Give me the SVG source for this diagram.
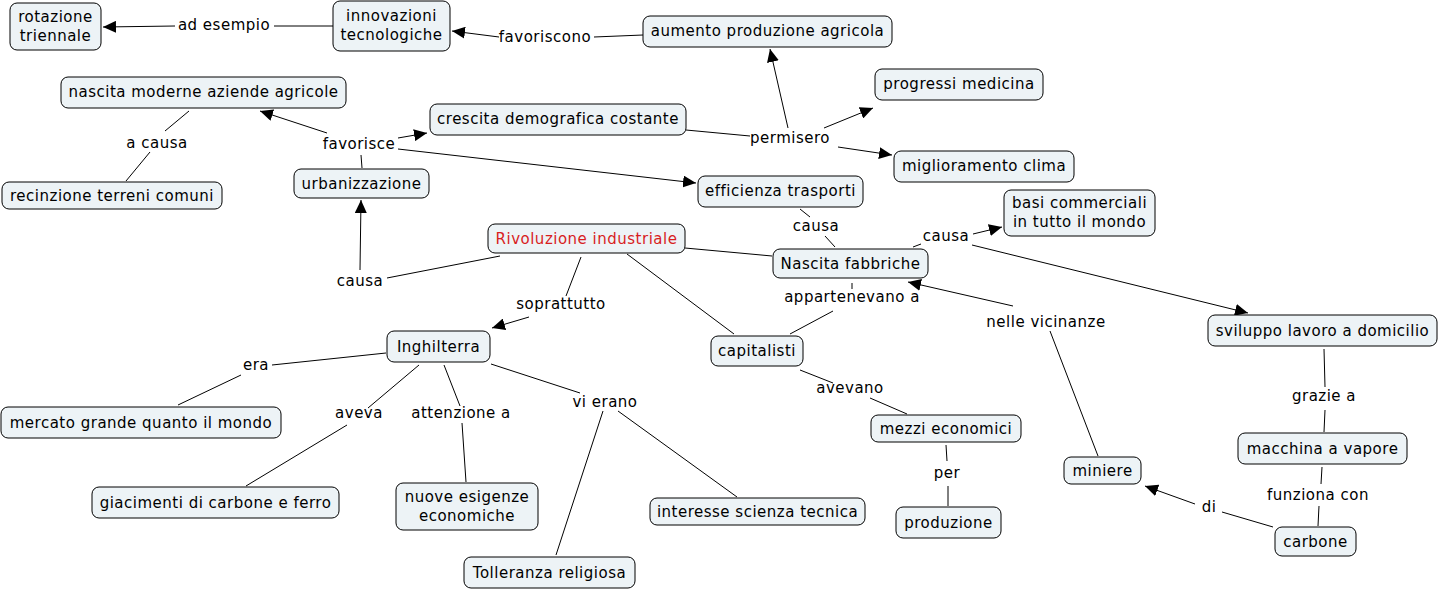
<svg xmlns="http://www.w3.org/2000/svg" width="1440" height="591" viewBox="0 0 1440 591">
<defs>
<style>
.n rect{fill:#edf3f6;stroke:#000;stroke-width:1}
text{font-family:"DejaVu Sans",Verdana,sans-serif;font-size:15px;letter-spacing:0.5px;fill:#000;text-anchor:middle}
.red{fill:#d81e1e}
#links line{stroke:#000;stroke-width:1}
.a{marker-end:url(#ar)}
</style>
<marker id="ar" markerUnits="userSpaceOnUse" markerWidth="14" markerHeight="12" refX="13" refY="6" orient="auto"><path d="M0,0 L13,6 L0,12 z" fill="#000"/></marker>
</defs>
<rect width="1440" height="591" fill="#fff"/>
<g id="links">
<line x1="333" y1="26" x2="274" y2="26"/><line class="a" x1="175" y1="26" x2="103" y2="27"/>
<line x1="643" y1="35" x2="594" y2="37"/><line class="a" x1="499" y1="37" x2="452" y2="31"/>
<line x1="686" y1="130" x2="750" y2="136"/>
<line class="a" x1="788" y1="128" x2="770" y2="49"/>
<line class="a" x1="824" y1="128" x2="873" y2="108"/>
<line class="a" x1="838" y1="147" x2="892" y2="155"/>
<line x1="362" y1="168" x2="361" y2="155"/>
<line class="a" x1="327" y1="133" x2="260" y2="111"/>
<line class="a" x1="398" y1="138" x2="427" y2="133"/>
<line class="a" x1="398" y1="149" x2="696" y2="183"/>
<line x1="126" y1="181" x2="150" y2="152"/><line x1="165" y1="131" x2="189" y2="111"/>
<line x1="500" y1="256" x2="387" y2="278"/><line class="a" x1="360" y1="270" x2="361" y2="200"/>
<line x1="685" y1="248" x2="772" y2="256"/>
<line x1="581" y1="257" x2="566" y2="296"/><line class="a" x1="529" y1="317" x2="492" y2="328"/>
<line x1="627" y1="254" x2="734" y2="334"/>
<line x1="800" y1="209" x2="810" y2="217"/><line x1="825" y1="236" x2="835" y2="247"/>
<line x1="913" y1="247" x2="921" y2="244"/>
<line class="a" x1="973" y1="234" x2="1002" y2="227"/>
<line class="a" x1="972" y1="245" x2="1248" y2="313"/>
<line x1="790" y1="334" x2="833" y2="311"/><line x1="852" y1="283" x2="852" y2="289"/>
<line x1="1098" y1="456" x2="1050" y2="331"/><line class="a" x1="1013" y1="306" x2="908" y2="282"/>
<line x1="800" y1="370" x2="833" y2="383"/><line x1="870" y1="398" x2="907" y2="414"/>
<line x1="946" y1="445" x2="947" y2="461"/><line x1="948" y1="486" x2="948" y2="506"/>
<line x1="386" y1="353" x2="272" y2="365"/><line x1="241" y1="375" x2="178" y2="405"/>
<line x1="419" y1="365" x2="368" y2="408"/><line x1="347" y1="425" x2="246" y2="486"/>
<line x1="444" y1="365" x2="460" y2="406"/><line x1="462" y1="423" x2="466" y2="482"/>
<line x1="491" y1="364" x2="580" y2="393"/><line x1="603" y1="411" x2="556" y2="555"/>
<line x1="618" y1="411" x2="737" y2="497"/>
<line x1="1324" y1="349" x2="1325" y2="387"/><line x1="1325" y1="410" x2="1324" y2="432"/>
<line x1="1318" y1="526" x2="1319" y2="506"/><line x1="1321" y1="484" x2="1322" y2="467"/>
<line x1="1273" y1="527" x2="1222" y2="512"/><line class="a" x1="1195" y1="504" x2="1145" y2="486"/>
</g>
<g id="labels">
<text x="224" y="30">ad esempio</text>
<text x="545" y="42">favoriscono</text>
<text x="790" y="143">permisero</text>
<text x="359" y="149">favorisce</text>
<text x="157" y="148">a causa</text>
<text x="360" y="286">causa</text>
<text x="561" y="309">soprattutto</text>
<text x="816" y="231">causa</text>
<text x="946" y="241">causa</text>
<text x="852" y="302">appartenevano a</text>
<text x="1046" y="327">nelle vicinanze</text>
<text x="850" y="393">avevano</text>
<text x="947" y="478">per</text>
<text x="256" y="370">era</text>
<text x="359" y="418">aveva</text>
<text x="461" y="418">attenzione a</text>
<text x="605" y="407">vi erano</text>
<text x="1324" y="401">grazie a</text>
<text x="1318" y="500">funziona con</text>
<text x="1209" y="512">di</text>
</g>
<g id="n1" class="n"><rect x="10" y="3" width="91" height="47" rx="7"/><text x="55.5" y="22">rotazione</text><text x="55.5" y="41">triennale</text></g>
<g id="n2" class="n"><rect x="333" y="1" width="117" height="50" rx="7"/><text x="391.5" y="21">innovazioni</text><text x="391.5" y="40">tecnologiche</text></g>
<g id="n3" class="n"><rect x="643" y="16" width="249" height="31" rx="7"/><text x="767.5" y="36">aumento produzione agricola</text></g>
<g id="n4" class="n"><rect x="61" y="77" width="285" height="31" rx="7"/><text x="203.5" y="97">nascita moderne aziende agricole</text></g>
<g id="n5" class="n"><rect x="430" y="104" width="256" height="31" rx="7"/><text x="558" y="124">crescita demografica costante</text></g>
<g id="n6" class="n"><rect x="875" y="69" width="168" height="31" rx="7"/><text x="959" y="89">progressi medicina</text></g>
<g id="n7" class="n"><rect x="894" y="151" width="180" height="31" rx="7"/><text x="984" y="171">miglioramento clima</text></g>
<g id="n8" class="n"><rect x="2" y="182" width="220" height="27" rx="7"/><text x="112" y="201">recinzione terreni comuni</text></g>
<g id="n9" class="n"><rect x="294" y="169" width="135" height="29" rx="7"/><text x="361.5" y="189">urbanizzazione</text></g>
<g id="n10" class="n"><rect x="698" y="176" width="165" height="31" rx="7"/><text x="780.5" y="196">efficienza trasporti</text></g>
<g id="n11" class="n"><rect x="1004" y="190" width="151" height="46" rx="7"/><text x="1079.5" y="208">basi commerciali</text><text x="1079.5" y="227">in tutto il mondo</text></g>
<g id="n12" class="n"><rect x="488" y="224" width="197" height="29" rx="7"/><text class="red" x="586.5" y="244">Rivoluzione industriale</text></g>
<g id="n13" class="n"><rect x="773" y="249" width="155" height="29" rx="7"/><text x="850.5" y="269">Nascita fabbriche</text></g>
<g id="n14" class="n"><rect x="711" y="336" width="92" height="30" rx="7"/><text x="757" y="356">capitalisti</text></g>
<g id="n15" class="n"><rect x="387" y="331" width="103" height="31" rx="7"/><text x="438.5" y="352">Inghilterra</text></g>
<g id="n16" class="n"><rect x="1" y="407" width="280" height="31" rx="7"/><text x="141" y="428">mercato grande quanto il mondo</text></g>
<g id="n17" class="n"><rect x="92" y="487" width="247" height="31" rx="7"/><text x="215.5" y="508">giacimenti di carbone e ferro</text></g>
<g id="n18" class="n"><rect x="396" y="483" width="142" height="47" rx="7"/><text x="467" y="502">nuove esigenze</text><text x="467" y="521">economiche</text></g>
<g id="n19" class="n"><rect x="650" y="498" width="215" height="27" rx="7"/><text x="757.5" y="517">interesse scienza tecnica</text></g>
<g id="n20" class="n"><rect x="464" y="557" width="171" height="31" rx="7"/><text x="549.5" y="578">Tolleranza religiosa</text></g>
<g id="n21" class="n"><rect x="871" y="415" width="150" height="27" rx="7"/><text x="946" y="434">mezzi economici</text></g>
<g id="n22" class="n"><rect x="896" y="507" width="105" height="31" rx="7"/><text x="948.5" y="528">produzione</text></g>
<g id="n23" class="n"><rect x="1208" y="315" width="229" height="31" rx="7"/><text x="1322.5" y="336">sviluppo lavoro a domicilio</text></g>
<g id="n24" class="n"><rect x="1238" y="433" width="169" height="31" rx="7"/><text x="1322.5" y="454">macchina a vapore</text></g>
<g id="n25" class="n"><rect x="1064" y="457" width="77" height="27" rx="7"/><text x="1102.5" y="476">miniere</text></g>
<g id="n26" class="n"><rect x="1275" y="527" width="81" height="29" rx="7"/><text x="1315.5" y="547">carbone</text></g>
</svg>
